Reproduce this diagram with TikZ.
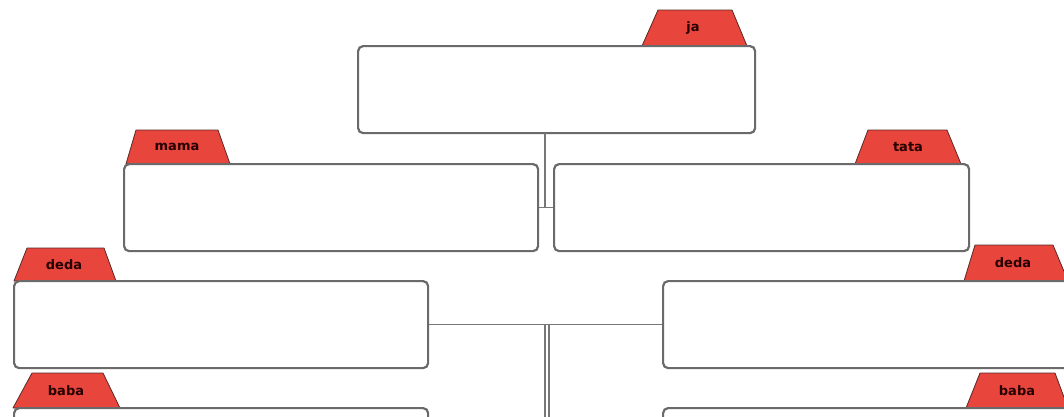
\documentclass[tikz,border=0pt]{standalone}
\usepackage{fontspec}
\newfontfamily\tabfont{DejaVu Sans}
\definecolor{boxgray}{HTML}{6A6A6A}
\definecolor{linegray}{HTML}{777777}
\definecolor{tabred}{HTML}{E8453C}
\definecolor{tabedge}{HTML}{5A2A28}
\tikzset{
  famebox/.style={draw=boxgray, line width=2.2pt, rounded corners=5pt, fill=white,
    anchor=north west, inner sep=0pt, minimum height=87pt},
  tabshape/.style={fill=tabred, draw=tabedge, line width=0.8pt, line join=round},
  tablabel/.style={font=\tabfont\bfseries\fontsize{13}{13}\selectfont, text=black!85!red, inner sep=0pt},
  link/.style={draw=linegray, line width=1.6pt}
}
\begin{document}
\begin{tikzpicture}[x=1pt,y=-1pt]
\useasboundingbox (0,0) rectangle (1064,416);
\clip (0,0) rectangle (1064,416);
\fill[white] (0,0) rectangle (1064,416);

% tabs
\filldraw[tabshape] (642,46) -- (658,10) -- (732,10) -- (747,46) -- cycle;
\filldraw[tabshape] (126,164) -- (136,130) -- (218,130) -- (230,164) -- cycle;
\filldraw[tabshape] (855,164) -- (868,130) -- (947,130) -- (961,164) -- cycle;
\filldraw[tabshape] (14,281) -- (27,248) -- (104,248) -- (116,281) -- cycle;
\filldraw[tabshape] (964,281) -- (975,245) -- (1053,245) -- (1068,281) -- cycle;
\filldraw[tabshape] (13,408) -- (32,373) -- (103,373) -- (120,408) -- cycle;
\filldraw[tabshape] (966,408) -- (980,373) -- (1055,373) -- (1068,408) -- cycle;

% boxes
\node[famebox, minimum width=397pt] (ja) at (357,45) {};
\node[famebox, minimum width=414pt] (mama) at (123,163) {};
\node[famebox, minimum width=415pt] (tata) at (553,163) {};
\node[famebox, minimum width=414pt] (dedaL) at (13,280) {};
\node[famebox, minimum width=420pt] (dedaR) at (662,280) {};
\node[famebox, minimum width=414pt] (babaL) at (13,407) {};
\node[famebox, minimum width=420pt] (babaR) at (662,407) {};

% tab labels
\node[tablabel] (tja) at (693,28) {ja};
\node[tablabel] (tmama) at (177,147) {mama};
\node[tablabel] (ttata) at (908,147) {tata};
\node[tablabel] (tdedaL) at (64,265) {deda};
\node[tablabel] (tdedaR) at (1013,263) {deda};
\node[tablabel] (tbabaL) at (66,391) {baba};
\node[tablabel] (tbabaR) at (1017,391) {baba};

% connectors
\coordinate (jb) at (545,133);
\draw[link] (jb) -- (jb |- mama.east);
\draw[link] (mama.east) -- (tata.west);
\draw[link] (dedaL.east) -- (dedaR.west);
\coordinate (v1) at (545,420);
\coordinate (v2) at (549,420);
\draw[link] (dedaL.east -| v1) -- (v1);
\draw[link] (dedaL.east -| v2) -- (v2);
\end{tikzpicture}
\end{document}
